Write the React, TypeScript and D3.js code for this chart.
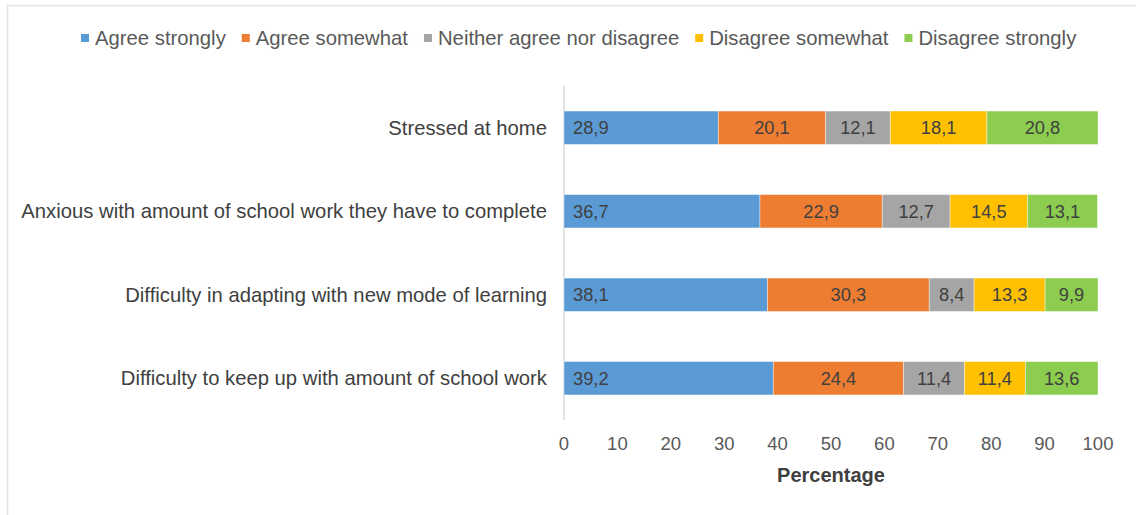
import React from "react";
import * as d3 from "d3";

const categories = [
  "Stressed at home",
  "Anxious with amount of school work they have to complete",
  "Difficulty in adapting with new mode of learning",
  "Difficulty to keep up with amount of school work",
];
const seriesNames = [
  "Agree strongly",
  "Agree somewhat",
  "Neither agree nor disagree",
  "Disagree somewhat",
  "Disagree strongly",
];
const agreeStrongly = [28.9, 36.7, 38.1, 39.2];
const agreeSomewhat = [20.1, 22.9, 30.3, 24.4];
const neither = [12.1, 12.7, 8.4, 11.4];
const disagreeSomewhat = [18.1, 14.5, 13.3, 11.4];
const disagreeStrongly = [20.8, 13.1, 9.9, 13.6];
const xTicks = [0, 10, 20, 30, 40, 50, 60, 70, 80, 90, 100];
const colors = ["#5B9BD5", "#ED7D31", "#A5A5A5", "#FFC000", "#8CCD50"];

const FONT = "'Liberation Sans', Arial, Helvetica, sans-serif";

function measure(text: string, font: string): number {
  const c = document.createElement("canvas");
  const ctx = c.getContext("2d");
  if (!ctx) return text.length * 10;
  ctx.font = font;
  return ctx.measureText(text).width;
}

export default function App() {
  const W = 1136;
  const H = 515;
  const values = [agreeStrongly, agreeSomewhat, neither, disagreeSomewhat, disagreeStrongly];
  const rows = categories.map((c, i) => {
    const r: any = { cat: c };
    seriesNames.forEach((s, j) => (r[s] = values[j][i]));
    return r;
  });
  const stacked = d3.stack<any>().keys(seriesNames)(rows);

  const x = d3.scaleLinear().domain([0, 100]).range([564, 1098]);
  const y = d3
    .scaleBand<string>()
    .domain(categories)
    .range([86, 420])
    .paddingInner(0.6)
    .paddingOuter(0.3);

  // legend layout
  const legendSize = 20.3;
  const legendFont = `${legendSize}px ${FONT}`;
  let lx = 81;
  const legendItems = seriesNames.map((s, i) => {
    const item = { s, x: lx, color: colors[i] };
    lx += 14 + measure(s, legendFont) + 16;
    return item;
  });

  const fmt = (v: number) => v.toFixed(1).replace(".", ",");

  return (
    <svg
      width={W}
      height={H}
      style={{ position: "absolute", left: 0, top: 0, background: "#fff" }}
      fontFamily={FONT}
    >
      {/* frame */}
      <line x1={7} y1={5.5} x2={W} y2={5.5} stroke="#e3e3e3" strokeWidth={1.5} />
      <line x1={7.5} y1={5} x2={7.5} y2={H} stroke="#e3e3e3" strokeWidth={1.5} />

      {/* legend */}
      {legendItems.map((it) => (
        <g key={it.s}>
          <rect x={it.x} y={34} width={8} height={8} fill={it.color} />
          <text x={it.x + 14} y={38} dominantBaseline="central" fontSize={legendSize} fill="#595959">
            {it.s}
          </text>
        </g>
      ))}

      {/* axis line */}
      <line x1={x(0)} y1={86} x2={x(0)} y2={420} stroke="#d9d9d9" strokeWidth={1.5} />

      {/* bars */}
      {stacked.map((layer, j) => (
        <g key={layer.key}>
          {layer.map((d, i) => {
            const x0 = x(d[0]);
            const x1 = x(d[1]);
            const yy = y(categories[i])!;
            const bw = y.bandwidth();
            const v = values[j][i];
            return (
              <g key={i}>
                <rect
                  x={x0}
                  y={yy}
                  width={x1 - x0}
                  height={bw}
                  fill={colors[j]}
                  stroke="#ffffff"
                  strokeOpacity={0.5}
                  strokeWidth={0.8}
                />
                <text
                  x={j === 0 ? x0 + 9 : (x0 + x1) / 2}
                  y={yy + bw / 2}
                  dominantBaseline="central"
                  textAnchor={j === 0 ? "start" : "middle"}
                  fontSize={18.3}
                  fill="#404040"
                >
                  {fmt(v)}
                </text>
              </g>
            );
          })}
        </g>
      ))}

      {/* category labels */}
      {categories.map((c) => (
        <text
          key={c}
          x={547}
          y={y(c)! + y.bandwidth() / 2}
          dominantBaseline="central"
          textAnchor="end"
          fontSize={20.25}
          fill="#404040"
        >
          {c}
        </text>
      ))}

      {/* x ticks */}
      {xTicks.map((t) => (
        <text
          key={t}
          x={x(t)}
          y={443}
          dominantBaseline="central"
          textAnchor="middle"
          fontSize={18.5}
          fill="#595959"
        >
          {t}
        </text>
      ))}

      <text
        x={(x(0) + x(100)) / 2}
        y={475}
        dominantBaseline="central"
        textAnchor="middle"
        fontSize={20}
        fontWeight="bold"
        fill="#404040"
      >
        Percentage
      </text>
    </svg>
  );
}
